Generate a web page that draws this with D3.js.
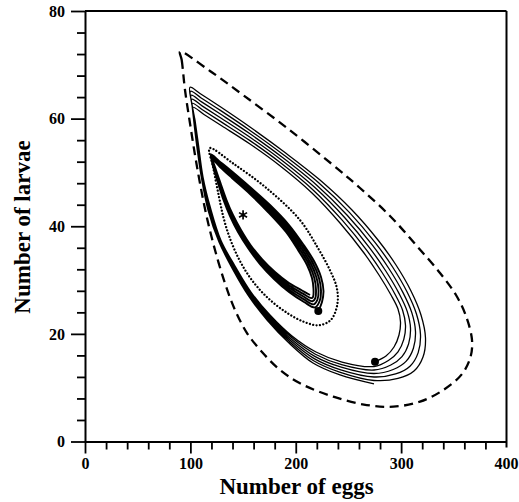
<!DOCTYPE html>
<html><head><meta charset="utf-8">
<script src="https://cdn.jsdelivr.net/npm/d3@7"></script>
<style>body{margin:0;background:#fff}</style>
</head><body><svg id="c" width="519" height="502"></svg>
<script>
const xTicks = [0, 100, 200, 300, 400];
const xMinor = [20,40,60,80,120,140,160,180,220,240,260,280,320,340,360,380];
const yTicks = [0, 20, 40, 60, 80];
const yMinor = [4,8,12,16,24,28,32,36,44,48,52,56,64,68,72,76];
const xLabel = "Number of eggs";
const yLabel = "Number of larvae";

const dashedCycle = [[90.15,72.44],[91.77,70.89],[94.90,65.32],[99.64,59.13],[104.39,53.24],[109.13,47.98],[115.49,41.77],[123.37,35.59],[132.86,29.40],[142.35,24.44],[153.74,20.16],[167.97,16.63],[185.05,13.29],[204.03,10.82],[235.63,8.33],[267.33,6.78],[292.57,6.47],[317.91,7.40],[340.02,9.57],[357.77,12.54],[365.84,15.70],[367.26,18.86],[361.57,23.32],[352.08,27.22],[336.89,31.31],[314.12,36.52],[289.44,41.91],[260.97,47.11],[235.35,51.38],[191.70,58.26],[149.94,64.39],[118.62,68.85]];

const dottedCycle = [[118.3,54.5],[121.6,51.0],[126.4,46.2],[131.6,41.5],[138.2,37.4],[147.7,33.3],[159.1,29.8],[173.4,26.7],[189.5,24.2],[206.9,22.3],[221.9,21.6],[233.3,22.6],[239.4,25.4],[239.0,28.5],[232.3,31.9],[220.9,36.0],[203.8,41.2],[172.2,47.1],[140.4,51.7]];

const outerLoop1 = [[275.21,14.83],[285.65,15.89],[293.24,17.56],[297.98,19.79],[299.41,22.21],[297.03,24.62],[290.39,27.22],[279.00,30.94],[264.77,35.03],[241.99,40.60],[215.42,46.18],[184.10,51.38],[156.58,55.28],[130.01,58.63],[112.93,60.77],[102.49,62.10],[104.39,59.74],[107.71,55.10],[111.98,49.15],[119.10,43.39],[129.06,37.35],[142.35,32.61],[157.53,27.78],[175.56,23.51],[196.44,19.61],[219.22,16.63],[243.89,14.77],[274.26,13.94]];
const outerLoop2 = [[274.26,13.94],[287.93,15.05],[297.04,16.67],[302.54,18.97],[304.15,21.61],[301.40,24.40],[294.19,27.37],[282.23,31.31],[267.43,35.51],[244.27,41.08],[216.94,46.66],[185.24,51.84],[156.58,55.91],[129.63,59.35],[112.17,61.55],[101.92,62.84],[103.82,60.30],[107.24,55.29],[111.60,49.22],[118.63,43.32],[128.68,37.29],[141.88,32.50],[157.06,27.63],[174.99,23.32],[195.87,19.35],[218.65,16.22],[243.51,14.29],[274.26,13.29]];
const outerLoop3 = [[274.26,13.29],[290.20,14.22],[300.83,15.78],[307.09,18.15],[308.90,21.02],[305.76,24.18],[297.98,27.52],[285.46,31.68],[270.08,36.00],[246.55,41.57],[218.46,47.14],[186.38,52.31],[156.58,56.54],[129.25,60.08],[111.41,62.33],[101.35,63.59],[103.25,60.86],[106.76,55.47],[111.22,49.30],[118.15,43.24],[128.30,37.24],[141.40,32.39],[156.58,27.48],[174.42,23.14],[195.30,19.09],[218.08,15.81],[243.13,13.81],[274.26,12.64]];
const outerLoop4 = [[274.26,12.64],[292.48,13.38],[304.63,14.88],[311.65,17.34],[313.64,20.42],[310.13,23.95],[301.78,27.67],[288.68,32.06],[272.74,36.48],[248.82,42.05],[219.97,47.63],[187.52,52.77],[156.58,57.18],[128.87,60.80],[110.65,63.11],[100.78,64.33],[102.68,61.41],[106.29,55.66],[110.84,49.37],[117.68,43.17],[127.92,37.18],[140.93,32.28],[156.11,27.34],[173.86,22.95],[194.73,18.82],[217.51,15.41],[242.75,13.32],[274.26,11.99]];
const outerLoop5 = [[274.26,11.99],[294.75,12.55],[308.42,13.99],[316.20,16.52],[318.39,19.83],[314.49,23.73],[305.57,27.82],[291.91,32.43],[275.39,36.96],[251.10,42.54],[221.49,48.11],[188.66,53.24],[156.58,57.81],[128.49,61.53],[109.89,63.89],[100.21,65.08],[102.11,61.97],[105.81,55.84],[110.46,49.45],[117.20,43.09],[127.54,37.13],[140.45,32.17],[155.63,27.19],[173.29,22.77],[194.16,18.56],[216.94,15.00],[242.37,12.84],[274.26,11.34]];
const outerLoop6 = [[274.26,11.34],[297.03,11.71],[312.22,13.10],[320.76,15.70],[323.13,19.23],[318.86,23.51],[309.37,27.97],[295.14,32.80],[278.05,37.44],[253.38,43.02],[223.01,48.59],[189.80,53.70],[156.58,58.44],[128.11,62.25],[109.13,64.67],[99.64,65.82],[101.54,62.53],[105.34,56.03],[110.08,49.52],[116.73,43.02],[127.16,37.07],[139.98,32.06],[155.16,27.04],[172.72,22.58],[193.59,18.30],[216.37,14.59],[241.99,12.36],[274.26,10.69]];

const innerLoop1 = [[221.40,24.25],[224.91,25.92],[226.33,27.97],[223.96,30.57],[217.32,33.54],[206.88,36.70],[193.59,40.23],[175.56,43.95],[156.58,47.29],[139.50,50.17],[127.16,52.13],[119.57,53.33],[121.47,51.20],[126.22,48.04],[131.43,44.88],[137.60,41.90],[145.20,38.93],[154.69,35.96],[166.07,32.98],[179.36,30.20],[193.59,27.78],[207.83,25.92],[218.27,24.90]];
const innerLoop2 = [[218.27,24.90],[222.78,26.15],[223.96,28.06],[221.83,30.52],[215.66,33.36],[205.69,36.42],[192.88,39.91],[175.09,43.63],[156.58,46.97],[139.50,49.87],[127.40,51.85],[120.05,53.08],[122.18,51.01],[126.93,47.97],[132.14,44.88],[138.31,41.95],[145.91,39.02],[155.28,36.10],[166.55,33.21],[179.60,30.53],[193.59,28.20],[207.36,26.46],[217.08,25.48]];
const innerLoop3 = [[217.08,25.48],[220.64,26.39],[221.59,28.16],[219.69,30.48],[214.00,33.17],[204.51,36.15],[192.17,39.58],[174.61,43.30],[156.58,46.64],[139.50,49.57],[127.64,51.57],[120.52,52.82],[122.90,50.83],[127.64,47.90],[132.86,44.88],[139.03,42.00],[146.62,39.12],[155.88,36.24],[167.02,33.45],[179.84,30.85],[193.59,28.62],[206.88,26.99],[215.90,26.06]];
const innerLoop4 = [[215.90,26.06],[218.51,26.62],[219.21,28.25],[217.56,30.43],[212.34,32.99],[203.32,35.87],[191.46,39.26],[174.14,42.98],[156.58,46.32],[139.50,49.27],[127.87,51.29],[121.00,52.57],[123.61,50.64],[128.35,47.83],[133.57,44.88],[139.74,42.04],[147.33,39.21],[156.47,36.38],[167.50,33.68],[180.07,31.18],[193.59,29.03],[206.41,27.53],[214.71,26.64]];
const innerLoop5 = [[214.71,26.64],[216.37,26.85],[216.84,28.34],[215.42,30.38],[210.68,32.80],[202.13,35.59],[190.75,38.93],[173.66,42.65],[156.58,45.99],[139.50,48.97],[128.11,51.01],[121.47,52.31],[124.32,50.45],[129.06,47.76],[134.28,44.88],[140.45,42.09],[148.04,39.30],[157.06,36.52],[167.97,33.91],[180.31,31.50],[193.59,29.45],[205.93,28.06],[213.52,27.22]];

const startPoints = [[275.21,14.83],[221.40,24.25]];
const equilibrium = [[150.0,42.1]];

const svg = d3.select("#c");
const x = d3.scaleLinear().domain([0,400]).range([85,506.5]);
const y = d3.scaleLinear().domain([0,80]).range([441.5,11]);
const FONT = "'Liberation Serif','Times New Roman',serif";

svg.append("line").attr("x1",x(0)).attr("x2",x(400)).attr("y1",y(80)).attr("y2",y(80)).attr("stroke","#000").attr("stroke-width",2);
svg.append("line").attr("x1",x(400)).attr("x2",x(400)).attr("y1",y(80)).attr("y2",y(0)+6).attr("stroke","#000").attr("stroke-width",2);

function styleAxis(g){
  g.select(".domain").attr("stroke-width",2);
  g.selectAll(".tick line").attr("stroke-width",1.8);
  g.selectAll("text").attr("font-family",FONT).attr("font-weight","bold").attr("font-size",16).attr("fill","#000");
}
svg.append("g").attr("transform",`translate(${x(0)},0)`)
  .call(d3.axisLeft(y).tickValues(yMinor).tickSize(8).tickFormat(""))
  .call(g=>{g.select(".domain").remove(); g.selectAll(".tick line").attr("stroke-width",1.8);});
svg.append("g").attr("transform",`translate(0,${y(0)})`)
  .call(d3.axisBottom(x).tickValues(xMinor).tickSize(8).tickFormat(""))
  .call(g=>{g.select(".domain").remove(); g.selectAll(".tick line").attr("stroke-width",1.8);});
svg.append("g").attr("transform",`translate(${x(0)},0)`)
  .call(d3.axisLeft(y).tickValues(yTicks).tickSize(14).tickSizeOuter(0).tickPadding(6).tickFormat(d3.format("d")))
  .call(styleAxis);
svg.append("g").attr("transform",`translate(0,${y(0)})`)
  .call(d3.axisBottom(x).tickValues(xTicks.slice(0,4)).tickSize(12).tickSizeOuter(0).tickPadding(4).tickFormat(d3.format("d")))
  .call(styleAxis);
svg.append("text").attr("x",x(400)).attr("y",y(0)+16+0.71*16).attr("text-anchor","middle")
  .attr("font-family",FONT).attr("font-weight","bold").attr("font-size",16).text(d3.format("d")(xTicks[4]));

svg.append("text").attr("x",296.5).attr("y",494).attr("text-anchor","middle")
  .attr("font-family",FONT).attr("font-weight","bold").attr("font-size",23).text(xLabel);
svg.append("text").attr("transform","translate(30,227) rotate(-90)").attr("text-anchor","middle")
  .attr("font-family",FONT).attr("font-weight","bold").attr("font-size",23).text(yLabel);

const lineOpen = d3.line().x(d=>x(d[0])).y(d=>y(d[1])).curve(d3.curveCatmullRom.alpha(0.5));
const lineClosed = d3.line().x(d=>x(d[0])).y(d=>y(d[1])).curve(d3.curveCatmullRomClosed.alpha(0.5));

svg.append("path").attr("d",lineClosed(dashedCycle)).attr("fill","none").attr("stroke","#000")
  .attr("stroke-width",2.3).attr("stroke-dasharray","9,5.5");
svg.append("path").attr("d",lineClosed(dottedCycle)).attr("fill","none").attr("stroke","#000")
  .attr("stroke-width",2.3).attr("stroke-linecap","round").attr("stroke-dasharray","0.01,3.4");

const outerSpiral = outerLoop1.concat(outerLoop2.slice(1),outerLoop3.slice(1),outerLoop4.slice(1),outerLoop5.slice(1),outerLoop6.slice(1));
svg.append("path").attr("d",lineOpen(outerSpiral)).attr("fill","none").attr("stroke","#000").attr("stroke-width",1.3);
const innerSpiral = innerLoop1.concat(innerLoop2.slice(1),innerLoop3.slice(1),innerLoop4.slice(1),innerLoop5.slice(1));
svg.append("path").attr("d",lineOpen(innerSpiral)).attr("fill","none").attr("stroke","#000").attr("stroke-width",1.9);

svg.selectAll("circle.start").data(startPoints).join("circle").attr("class","start")
  .attr("cx",d=>x(d[0])).attr("cy",d=>y(d[1])).attr("r",4).attr("fill","#000");
svg.selectAll("path.eq").data(equilibrium).join("path").attr("class","eq")
  .attr("transform",d=>`translate(${x(d[0])},${y(d[1])})`)
  .attr("d",d3.symbol(d3.symbolAsterisk,60)()).attr("fill","none").attr("stroke","#000").attr("stroke-width",1.7);
</script></body></html>
